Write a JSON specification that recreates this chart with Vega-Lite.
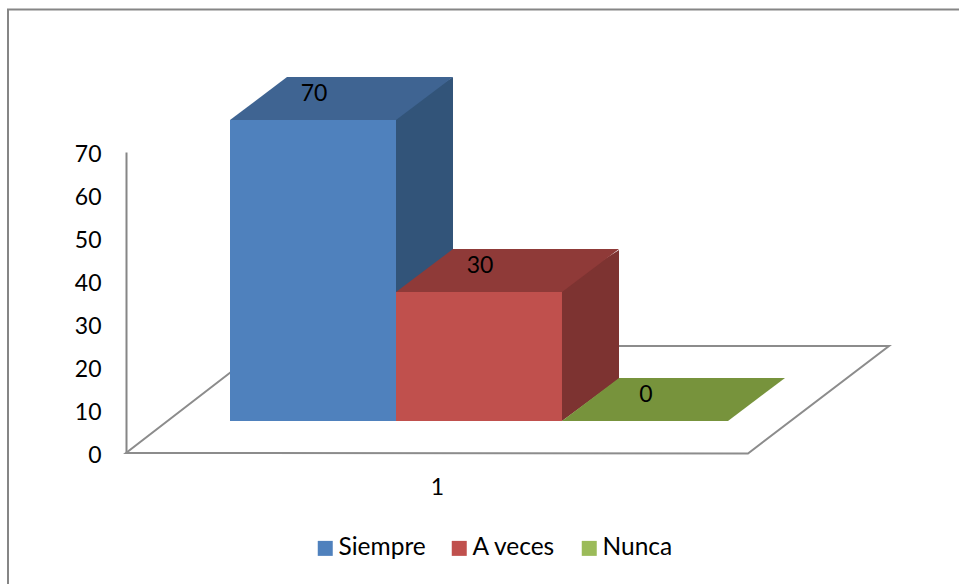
{
"$schema":"https://vega.github.io/schema/vega-lite/v6.json",
"width":622,"height":301,
"autosize":{"type":"none"},
"padding":{"left":126,"top":152,"right":211,"bottom":131},
"background":"white",
"config":{"view":{"stroke":null},"font":"Lato"},
"data":{"values":[{"series":"Siempre","value":70},{"series":"A veces","value":30},{"series":"Nunca","value":0}]},
"encoding":{
"x":{"field":"series","type":"nominal","sort":["Siempre","A veces","Nunca"],
"scale":{"paddingInner":0,"paddingOuter":0.3735},
"axis":{"title":"1","labels":false,"ticks":false,"domain":false,"titleFont":"Lato","titleFontSize":23,"titleFontWeight":"normal","titleColor":"#000000","titlePadding":23}},
"y":{"field":"value","type":"quantitative","scale":{"domain":[0,70],"nice":false},
"axis":{"title":null,"values":[0,10,20,30,40,50,60,70],"grid":false,"ticks":false,"domainColor":"#868686","domainWidth":2,"labelFont":"Lato","labelFontSize":23,"labelColor":"#000000","labelPadding":25,"labelOffset":2}}
},
"layer":[
{"transform":[{"filter":"datum.series==='A veces'"}],
"mark":{"type":"point","filled":false,"opacity":1,"size":4,"stroke":"#868686","strokeWidth":2,"shape":"M-429,131 L-429,-443.5 L522,-443.5"},
"encoding":{"y":{"datum":0}}},
{"transform":[{"filter":"datum.series==='A veces'"}],
"mark":{"type":"point","filled":false,"opacity":1,"size":4,"stroke":"#8c8c8c","strokeWidth":2,"shape":"M-206,-81 L-311,0 L311,0.5 L452,-107 L182,-107"},
"encoding":{"y":{"datum":0}}},
{"transform":[{"filter":"datum.series==='Siempre'"}],
"mark":{"type":"point","filled":true,"opacity":1,"size":4,"fill":"#325479","stroke":null,"shape":"M120,-36 L182,-75 L182,226 L125,269 Z"}},
{"transform":[{"filter":"datum.series==='A veces'"}],
"mark":{"type":"point","filled":true,"opacity":1,"size":4,"fill":"#7d3331","stroke":null,"shape":"M120,-35 L182,-74 L182,55 L125,97 Z"}},
{"mark":{"type":"point","filled":true,"opacity":1,"size":4,"stroke":null,"shape":"M-41,-32 L125,-32 L182,-75 L16,-75 Z"},
"encoding":{"color":{"field":"series","type":"nominal","legend":null,"scale":{"domain":["Siempre","A veces","Nunca"],"range":["#3f6492","#8f3a38","#77933c"]}}}},
{"mark":{"type":"bar","xOffset":42,"x2Offset":42,"yOffset":-32,"y2Offset":-32},
"encoding":{"color":{"field":"series","type":"nominal","sort":["Siempre","A veces","Nunca"],
"scale":{"domain":["Siempre","A veces","Nunca"],"range":["#4f81bd","#c0504d","#9bbb59"]},
"legend":{"title":null,"orient":"none","direction":"horizontal","legendX":187,"legendY":384,"symbolType":"square","symbolSize":225,"symbolStrokeWidth":0,"labelFont":"Lato","labelFontSize":24.5,"labelColor":"#000000","labelOffset":1,"columnPadding":21,"symbolOpacity":1}}}},
{"mark":{"type":"text","font":"Lato","fontSize":23,"color":"#000000","xOffset":43,"yOffset":-58},
"encoding":{"text":{"field":"value","type":"quantitative"}}}
],
"resolve":{"scale":{"color":"independent"}}
}
